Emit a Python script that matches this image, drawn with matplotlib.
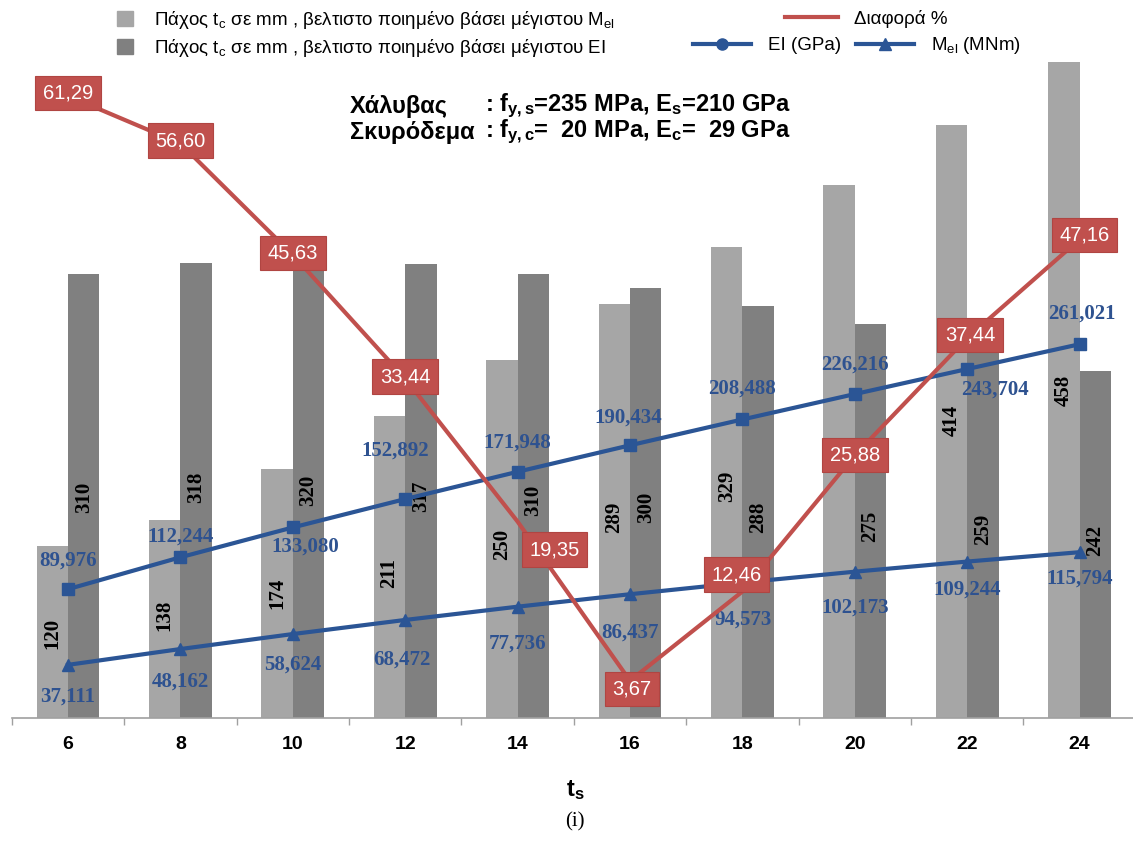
import matplotlib
matplotlib.use("Agg")
import matplotlib.pyplot as plt
from matplotlib import font_manager
from matplotlib.patches import Patch
from matplotlib.lines import Line2D

# ---------------- data ----------------
ts = ["6", "8", "10", "12", "14", "16", "18", "20", "22", "24"]
tc_mel = [120, 138, 174, 211, 250, 289, 329, 372, 414, 458]   # thickness optimised on max M_el
tc_ei = [310, 318, 320, 317, 310, 300, 288, 275, 259, 242]    # thickness optimised on max EI
ei = [89.976, 112.244, 133.080, 152.892, 171.948, 190.434, 208.488, 226.216, 243.704, 261.021]
mel = [37.111, 48.162, 58.624, 68.472, 77.736, 86.437, 94.573, 102.173, 109.244, 115.794]
diff = [61.29, 56.60, 45.63, 33.44, 19.35, 3.67, 12.46, 25.88, 37.44, 47.16]

# label placement (text positions only; None = label hidden behind another label in the reference)
mel_bar_lab_y = [59, 72, 87, 101, 121, 140, 162, None, 208, 229]
ei_bar_lab_y = [154, 161, 159, 155, 152, 147, 140, 134, 132, 124]
ei_lab_off = [(0, 29), (0, 21), (12, -19), (-10, 48), (0, 29), (-2, 28), (0, 31), (0, 29), (28, -21), (2, 31)]
mel_lab_off = [(0, -32), (0, -33), (0, -31), (-3, -40), (0, -37), (0, -38), (1, -37), (0, -36), (0, -28), (0, -26)]
diff_lab_off = [(0, 3), (0, 3), (0, 2), (0, 2), (37, -28), (2, -8), (-6, 17), (0, 0), (3, 3), (5, 4)]

# ---------------- fonts ----------------
avail = {f.name for f in font_manager.fontManager.ttflist}
NARROW = "Liberation Sans Narrow" if "Liberation Sans Narrow" in avail else "Liberation Sans"
SANS = "Liberation Sans"
SERIF = "Liberation Serif"
plt.rcParams["font.family"] = [SANS, "DejaVu Sans"]
plt.rcParams["mathtext.fontset"] = "custom"
plt.rcParams["mathtext.rm"] = SANS
plt.rcParams["mathtext.it"] = SANS + ":italic"
plt.rcParams["mathtext.bf"] = NARROW + ":bold"

LIGHT = "#A6A6A6"
DARK = "#808080"
BLUE = "#2B5595"
RED = "#C0504D"
LABBLUE = "#2E5290"

W, H = 1133, 848
fig = plt.figure(figsize=(W / 100, H / 100), dpi=100)
ax = fig.add_axes([11.8 / W, 130 / H, 1121.2 / W, 658.7 / H])
ax.set_xlim(-0.5, 9.475)
ax.set_ylim(0, 460)

x = list(range(len(ts)))
bw = 0.28
ax.bar([i - bw / 2 for i in x], tc_mel, width=bw, color=LIGHT, zorder=1)
ax.bar([i + bw / 2 for i in x], tc_ei, width=bw, color=DARK, zorder=1)

for i in x:
    if mel_bar_lab_y[i] is not None:
        ax.text(i - bw / 2, mel_bar_lab_y[i], str(tc_mel[i]), rotation=90, ha="center", va="center",
                fontsize=15, fontweight="bold", family=SERIF, color="black", zorder=2)
    ax.text(i + bw / 2, ei_bar_lab_y[i], str(tc_ei[i]), rotation=90, ha="center", va="center",
            fontsize=15, fontweight="bold", family=SERIF, color="black", zorder=2)

ax.plot(x, ei, color=BLUE, lw=3, marker="s", ms=9, zorder=3)
ax.plot(x, mel, color=BLUE, lw=3, marker="^", ms=9, zorder=3)


def fmt(v, d):
    return f"{v:.{d}f}".replace(".", ",")


for i in x:
    ax.annotate(fmt(ei[i], 3), (i, ei[i]), xytext=ei_lab_off[i], textcoords="offset pixels",
                ha="center", va="center", fontsize=15, fontweight="bold", family=SERIF,
                color=LABBLUE, zorder=4)
    ax.annotate(fmt(mel[i], 3), (i, mel[i]), xytext=mel_lab_off[i], textcoords="offset pixels",
                ha="center", va="center", fontsize=15, fontweight="bold", family=SERIF,
                color=LABBLUE, zorder=4)

# axis styling
for s in ["top", "right", "left"]:
    ax.spines[s].set_visible(False)
ax.spines["bottom"].set_color("#A0A0A0")
ax.spines["bottom"].set_linewidth(1.2)
ax.set_yticks([])
ax.set_xticks(x)
ax.set_xticklabels(ts, fontsize=14, fontweight="bold", family=NARROW)
ax.tick_params(axis="x", which="major", length=0, pad=13)
ax.set_xticks([i - 0.5 for i in range(len(ts))], minor=True)
ax.tick_params(axis="x", which="minor", length=5, color="#A0A0A0", width=1)

# secondary axis for the difference %
ax2 = ax.twinx()
ax2.set_ylim(0, 658.7 / 10.15)
ax2.set_yticks([])
for s in ax2.spines.values():
    s.set_visible(False)
ax2.plot(x, diff, color=RED, lw=3, zorder=5)
for i in x:
    ax2.annotate(fmt(diff[i], 2), (i, diff[i]), xytext=diff_lab_off[i], textcoords="offset pixels",
                 ha="center", va="center", fontsize=14.5, color="white", family=SANS, zorder=6,
                 bbox=dict(boxstyle="square,pad=0.38", facecolor=RED, edgecolor="#B04542", lw=0.8))

# title block
tfs = 17
fig.text(350 / W, 1 - 106 / H, "Χάλυβας", fontsize=tfs, fontweight="bold", family=NARROW,
         ha="left", va="center")
fig.text(485 / W, 1 - 106 / H, r": f$_{\mathbf{y,s}}$=235 MPa, E$_{\mathbf{s}}$=210 GPa", fontsize=tfs,
         fontweight="bold", family=NARROW, ha="left", va="center")
fig.text(350 / W, 1 - 132 / H, "Σκυρόδεμα", fontsize=tfs, fontweight="bold", family=NARROW,
         ha="left", va="center")
fig.text(485 / W, 1 - 132 / H, r": f$_{\mathbf{y,c}}$=  20 MPa, E$_{\mathbf{c}}$=  29 GPa", fontsize=tfs,
         fontweight="bold", family=NARROW, ha="left", va="center")

# legends
leg1 = fig.legend(handles=[Patch(color=LIGHT), Patch(color=DARK)],
                  labels=[r"Πάχος t$_\mathrm{c}$ σε mm , βελτιστο ποιημένο βάσει μέγιστου M$_\mathrm{el}$",
                          r"Πάχος t$_\mathrm{c}$ σε mm , βελτιστο ποιημένο βάσει μέγιστου EI"],
                  loc="upper left", bbox_to_anchor=(117 / W, 1 - 9 / H), frameon=False,
                  fontsize=13.5, handlelength=0.85, handleheight=0.85, handletextpad=1.1,
                  labelspacing=0.3, borderpad=0, borderaxespad=0)
leg2 = fig.legend(handles=[Line2D([], [], color=RED, lw=3)], labels=["Διαφορά %"],
                  loc="center left", bbox_to_anchor=(785 / W, 1 - 19 / H), frameon=False,
                  fontsize=13.5, handlelength=2.8, handletextpad=0.9, borderpad=0, borderaxespad=0)
leg3 = fig.legend(handles=[Line2D([], [], color=BLUE, lw=3, marker="o", ms=8),
                           Line2D([], [], color=BLUE, lw=3, marker="^", ms=9)],
                  labels=["EI (GPa)", r"M$_\mathrm{el}$ (MNm)"], ncol=2,
                  loc="center left", bbox_to_anchor=(693 / W, 1 - 46 / H), frameon=False,
                  fontsize=13.5, handlelength=3.1, handletextpad=0.9, columnspacing=0.8,
                  borderpad=0, borderaxespad=0)

# axis title and figure caption
fig.text(575 / W, 1 - 790 / H, r"t$_\mathbf{s}$", fontsize=17, fontweight="bold", family=NARROW,
         ha="center", va="center")
fig.text(575 / W, 1 - 822 / H, "(i)", fontsize=15, family=SERIF, ha="center", va="center")

fig.savefig("out.png", dpi=100)
